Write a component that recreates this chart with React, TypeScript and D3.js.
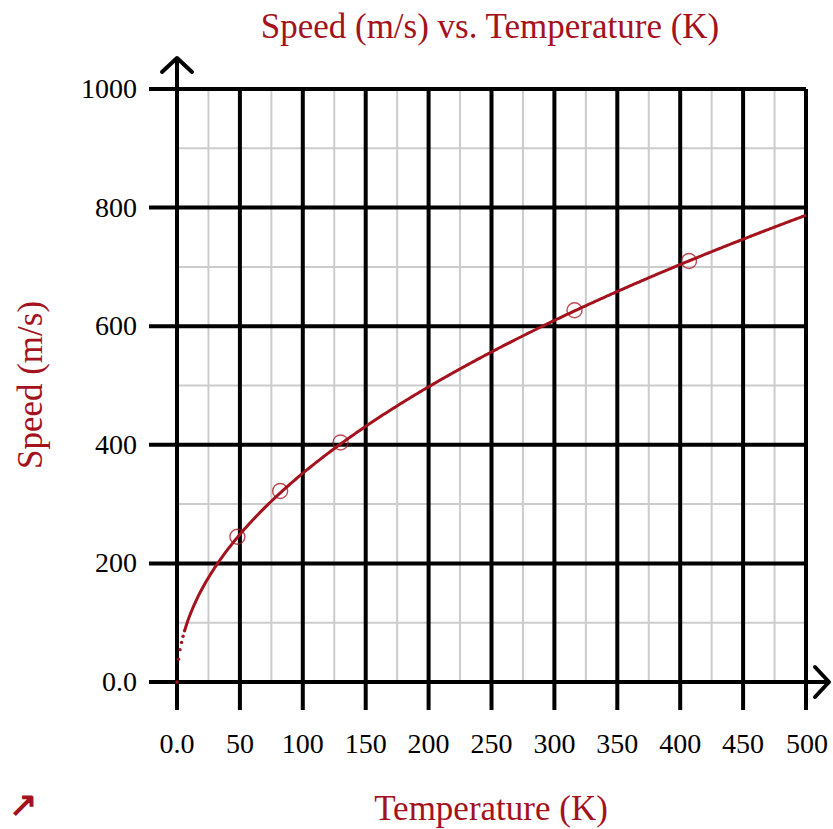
import React from "react";
import * as d3 from "d3";

const title = "Speed (m/s) vs. Temperature (K)";
const xLabel = "Temperature (K)";
const yLabel = "Speed (m/s)";
const xTicks = [0, 50, 100, 150, 200, 250, 300, 350, 400, 450, 500];
const xTickLabels = ["0.0", "50", "100", "150", "200", "250", "300", "350", "400", "450", "500"];
const yTicks = [0, 200, 400, 600, 800, 1000];
const yTickLabels = ["0.0", "200", "400", "600", "800", "1000"];
const xMinor = [25, 75, 125, 175, 225, 275, 325, 375, 425, 475];
const yMinor = [100, 300, 500, 700, 900];
const tempData = [48, 82, 130, 316, 407];
const speedData = [245, 322, 404, 627, 710];
const fitCoef = 35.2; // speed = k * sqrt(T)
const fitStep = 1.2;

const RED = "#a3121d";
const FONT = "'Liberation Serif', 'Times New Roman', serif";

export default function App() {
  const W = 833, H = 829;
  const x = d3.scaleLinear().domain([0, 500]).range([177, 806]);
  const y = d3.scaleLinear().domain([0, 1000]).range([682, 89]);

  const samples: [number, number][] = [];
  for (let i = 0; i * fitStep <= 500 + 1e-9; i++) {
    const t = i * fitStep;
    samples.push([t, fitCoef * Math.sqrt(t)]);
  }
  const dotSamples = samples.filter((s) => s[0] < 7);
  const lineSamples = samples.filter((s) => s[0] >= 6);
  lineSamples.push([500, fitCoef * Math.sqrt(500)]);
  const line = d3.line<[number, number]>().x((d) => x(d[0])).y((d) => y(d[1]));

  const x0 = x(0), y0 = y(0);
  return (
    <svg width={W} height={H} style={{ position: "absolute", left: 0, top: 0 }} fontFamily={FONT}>
      <rect width={W} height={H} fill="#fff" />
      {/* minor grid */}
      {xMinor.map((v) => (
        <line key={"xm" + v} x1={x(v)} x2={x(v)} y1={y(1000)} y2={y0} stroke="#cccccc" strokeWidth={2} />
      ))}
      {yMinor.map((v) => (
        <line key={"ym" + v} x1={x0} x2={x(500)} y1={y(v)} y2={y(v)} stroke="#cccccc" strokeWidth={2} />
      ))}
      {/* major grid */}
      {xTicks.map((v) => (
        <line key={"xM" + v} x1={x(v)} x2={x(v)} y1={y(1000)} y2={y0 + 28} stroke="#000" strokeWidth={4} />
      ))}
      {yTicks.map((v) => (
        <line key={"yM" + v} x1={x0 - 28} x2={x(500)} y1={y(v)} y2={y(v)} stroke="#000" strokeWidth={4} />
      ))}
      {/* axes with arrows */}
      <line x1={x0} x2={x0} y1={y0 + 28} y2={58} stroke="#000" strokeWidth={4} />
      <line x1={x0 - 28} x2={829} y1={y0} y2={y0} stroke="#000" strokeWidth={4} />
      <polyline points={`${x0 - 15},${72} ${x0},${58} ${x0 + 15},${72}`} fill="none" stroke="#000" strokeWidth={4} strokeLinecap="round" strokeLinejoin="round" />
      <polyline points={`${815},${y0 - 15} ${829},${y0} ${815},${y0 + 15}`} fill="none" stroke="#000" strokeWidth={4} strokeLinecap="round" strokeLinejoin="round" />
      {/* tick labels */}
      {xTicks.map((v, i) => (
        <text key={"xl" + v} x={x(v) + (v === 500 ? 1 : 0)} y={753} textAnchor="middle" fontSize={28} fill="#000">
          {xTickLabels[i]}
        </text>
      ))}
      {yTicks.map((v, i) => (
        <text key={"yl" + v} x={137} y={y(v) + 9} textAnchor="end" fontSize={28} fill="#000">
          {yTickLabels[i]}
        </text>
      ))}
      {/* fit curve */}
      {dotSamples.map((d, i) => (
        <circle key={"d" + i} cx={x(d[0])} cy={y(d[1])} r={1.7} fill={RED} />
      ))}
      <path d={line(lineSamples) || ""} fill="none" stroke={RED} strokeWidth={3} />
      {/* data points */}
      {tempData.map((t, i) => (
        <circle key={"p" + i} cx={x(t)} cy={y(speedData[i])} r={7.5} fill="none" stroke={RED} strokeOpacity={0.75} strokeWidth={1.4} />
      ))}
      {/* titles */}
      <text x={490} y={38} textAnchor="middle" fontSize={35} fill={RED}>{title}</text>
      <text x={491} y={820} textAnchor="middle" fontSize={35} fill={RED}>{xLabel}</text>
      <text transform={`translate(42,385) rotate(-90)`} textAnchor="middle" fontSize={35} fill={RED}>{yLabel}</text>
      <text x={23} y={816} textAnchor="middle" fontSize={34} fontWeight="bold" fill={RED}>↗</text>
    </svg>
  );
}
